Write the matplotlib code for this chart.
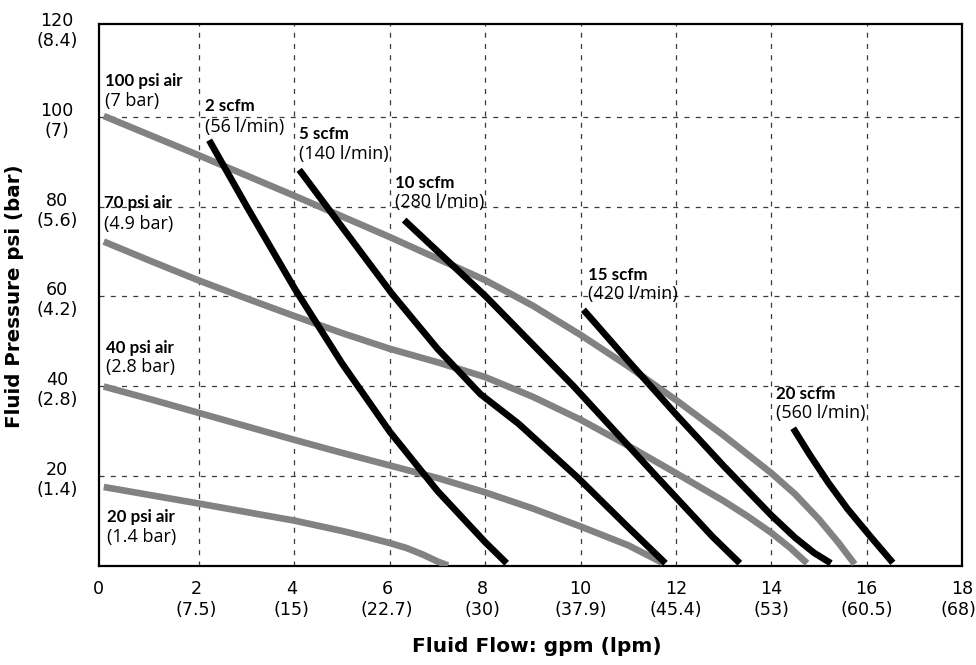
import matplotlib
matplotlib.use("Agg")
import matplotlib.pyplot as plt
from matplotlib.transforms import blended_transform_factory, ScaledTranslation

plt.rcParams['font.family'] = ['DejaVu Sans']

# ---- data (gpm, psi) ----
air100_x = [0, 2, 4, 6, 8, 9, 10, 11, 12, 13, 14, 14.5, 15, 15.4, 15.75]
air100_y = [100.2, 91.4, 82.4, 73.2, 63.6, 57.9, 51.4, 44.4, 36.9, 29.0, 20.6, 15.9, 10.3, 5.2, 0.3]
air70_x = [0, 1, 2, 3, 4, 5, 6, 7, 8, 9, 10, 11, 12, 13, 13.5, 14, 14.4, 14.75]
air70_y = [72.2, 67.8, 63.5, 59.5, 55.6, 51.8, 48.3, 45.3, 42.0, 37.6, 32.5, 26.7, 20.6, 14.4, 11.0, 7.3, 3.9, 0.5]
air40_x = [0, 1, 2, 3, 4, 5, 6, 7, 8, 9, 10, 11, 11.72]
air40_y = [39.9, 37.0, 34.0, 31.0, 28.0, 25.1, 22.3, 19.5, 16.3, 12.7, 8.7, 4.5, 0.6]
air20_x = [0, 2, 4, 5, 5.5, 6, 6.35, 6.7, 7.0, 7.22]
air20_y = [17.5, 13.8, 10.0, 7.7, 6.4, 5.0, 3.9, 2.4, 0.9, 0]

scfm2_x = [2.21, 3.0, 4.0, 5.0, 6.0, 7.0, 8.0, 8.45]
scfm2_y = [94.8, 80.0, 61.8, 45.0, 29.8, 16.6, 5.2, 0.5]
scfm5_x = [4.1, 5.0, 6.05, 7.0, 7.9, 8.7, 9.95, 11.0, 11.78]
scfm5_y = [88.2, 75.4, 60.5, 48.3, 38.2, 31.6, 19.5, 8.5, 0.5]
scfm10_x = [6.3, 8.01, 9.85, 11.58, 12.77, 13.34]
scfm10_y = [77, 60, 40, 20, 6.4, 0.5]
scfm15_x = [10.06, 11.0, 12.0, 13.0, 14.0, 14.5, 14.9, 15.25]
scfm15_y = [57.0, 45.6, 33.7, 22.2, 11.2, 6.2, 2.8, 0.5]
scfm20_x = [14.46, 14.8, 15.2, 15.6, 16.1, 16.55]
scfm20_y = [30.6, 24.8, 18.4, 12.6, 6.2, 0.6]

x_ticks = [0, 2, 4, 6, 8, 10, 12, 14, 16, 18]
x_lpm = ['', '(7.5)', '(15)', '(22.7)', '(30)', '(37.9)', '(45.4)', '(53)', '(60.5)', '(68)']
y_ticks = [20, 40, 60, 80, 100, 120]
y_bar = ['(1.4)', '(2.8)', '(4.2)', '(5.6)', '(7)', '(8.4)']

# (bold line, regular line, left x, bold baseline y, regular baseline y)
air_labels = [('100 psi air', '(7 bar)', 0.03, 106.9, 102.5),
              ('70 psi air', '(4.9 bar)', 0.01, 79.7, 75.1),
              ('40 psi air', '(2.8 bar)', 0.05, 47.4, 43.1),
              ('20 psi air', '(1.4 bar)', 0.07, 9.8, 5.2)]
scfm_labels = [('2 scfm', '(56 l/min)', 2.12, 101.2, 96.6),
               ('5 scfm', '(140 l/min)', 4.09, 95.1, 90.7),
               ('10 scfm', '(280 l/min)', 6.11, 84.1, 79.9),
               ('15 scfm', '(420 l/min)', 10.15, 63.6, 59.3),
               ('20 scfm', '(560 l/min)', 14.10, 37.1, 32.8)]

W, H = 976, 665
fig = plt.figure(figsize=(W / 100, H / 100), dpi=100)
ax = fig.add_axes([99 / W, 1 - 565.5 / H, (962 - 99) / W, (565.5 - 24) / H])
ax.set_xlim(-0.1, 18.0)
ax.set_ylim(0, 120.7)

gray = '#828282'
lw = 4.8
for xs, ys in [(air100_x, air100_y), (air70_x, air70_y), (air40_x, air40_y), (air20_x, air20_y)]:
    ax.plot(xs, ys, color=gray, lw=lw, solid_capstyle='butt', solid_joinstyle='round', zorder=3)
for xs, ys in [(scfm2_x, scfm2_y), (scfm5_x, scfm5_y), (scfm10_x, scfm10_y),
               (scfm15_x, scfm15_y), (scfm20_x, scfm20_y)]:
    ax.plot(xs, ys, color='black', lw=lw, solid_capstyle='butt', solid_joinstyle='round', zorder=4)

# grid
for xv in x_ticks[1:-1]:
    ax.axvline(xv, color='#3a3a3a', lw=0.9, dashes=(4, 5), zorder=1)
for yv in y_ticks[:-1]:
    ax.axhline(yv, color='#3a3a3a', lw=0.9, dashes=(4, 5), zorder=1)

for s in ax.spines.values():
    s.set_linewidth(1.6)
    s.set_color('black')
ax.set_xticks([])
ax.set_yticks([])

fs = 12.6
tx = blended_transform_factory(ax.transData, ax.transAxes)
for v, lab in zip(x_ticks, x_lpm):
    t = tx
    if 0 < v <= 8:
        t = tx + ScaledTranslation(-3 / 100, 0, fig.dpi_scale_trans)
    elif v == 0:
        t = tx + ScaledTranslation(-5 / 100, 0, fig.dpi_scale_trans)
    ax.text(v, -0.0434, str(v), transform=t, ha='center', va='center', fontsize=fs, clip_on=False)
    if lab:
        if v == x_ticks[-1]:
            t = tx + ScaledTranslation(-4 / 100, 0, fig.dpi_scale_trans)
        ax.text(v, -0.0822, lab, transform=t, ha='center', va='center', fontsize=fs, clip_on=False)

ty = blended_transform_factory(fig.transFigure, ax.transData)
for v, lab in zip(y_ticks, y_bar):
    ax.text(57 / W, v + 1.35, str(v), transform=ty, ha='center', va='center', fontsize=fs, clip_on=False)
    ax.text(57 / W, v - 3.15, lab, transform=ty, ha='center', va='center', fontsize=fs, clip_on=False)

for b, r, x, yb, yr in air_labels + scfm_labels:
    ax.text(x, yb, b, ha='left', va='baseline', fontsize=12.2, fontweight='bold',
            family=['Lato', 'Open Sans'], zorder=5)
    ax.text(x, yr, r, ha='left', va='baseline', fontsize=13, family=['Open Sans'], zorder=5)

fig.text(537 / W, 1 - 647 / H, 'Fluid Flow: gpm (lpm)', ha='center', va='center',
         fontsize=14.5, fontweight='bold')
fig.text(15 / W, 1 - 296 / H, 'Fluid Pressure psi (bar)', ha='center', va='center',
         fontsize=14.3, fontweight='bold', rotation=90)

fig.savefig('out.png', dpi=100)
